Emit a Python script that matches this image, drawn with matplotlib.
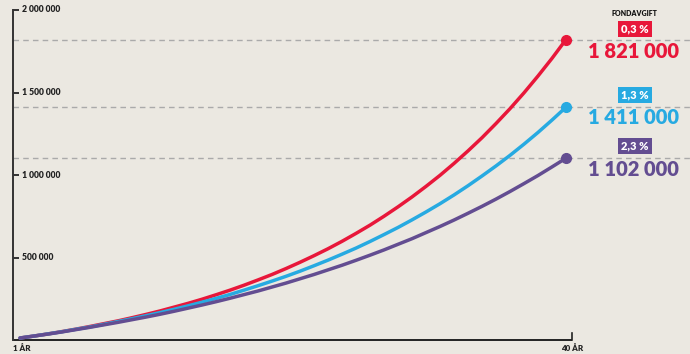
import matplotlib
matplotlib.use("Agg")
import matplotlib.pyplot as plt
import matplotlib.transforms as mtransforms

# ---- data (values in kronor) ----
years = list(range(1, 41))
red_k = [12, 24, 37, 51, 66, 82, 99, 116, 135, 155, 176, 199, 222, 247, 274, 302,
         332, 364, 397, 433, 471, 511, 553, 598, 646, 696, 750, 807, 867, 931, 998,
         1070, 1146, 1226, 1312, 1402, 1498, 1600, 1707, 1821]
blue_k = [12, 24, 37, 50, 65, 79, 95, 112, 129, 147, 166, 186, 207, 229, 252, 276,
          302, 329, 357, 386, 417, 450, 484, 520, 557, 597, 639, 682, 728, 776, 826,
          879, 935, 994, 1055, 1119, 1187, 1258, 1333, 1411]
purple_k = [12, 24, 36, 49, 63, 77, 92, 107, 123, 139, 156, 174, 193, 212, 232, 253,
            275, 297, 321, 345, 371, 397, 425, 453, 483, 514, 546, 580, 614, 651, 688,
            727, 768, 810, 854, 900, 948, 997, 1049, 1102]
fee_labels = ["0,3 %", "1,3 %", "2,3 %"]
end_labels = ["1 821 000", "1 411 000", "1 102 000"]
end_values = [1821000, 1411000, 1102000]
y_ticks = [500000, 1000000, 1500000, 2000000]
y_tick_labels = ["500 000", "1 000 000", "1 500 000", "2 000 000"]
x_labels = ["1 ÅR", "40 ÅR"]

series = [[v * 1000 for v in red_k], [v * 1000 for v in blue_k], [v * 1000 for v in purple_k]]
colors = ["#E8173A", "#27AAE1", "#634D91"]
bg = "#EBE8E1"

plt.rcParams['font.family'] = ['Lato', 'DejaVu Sans']

W, H = 690, 354
fig = plt.figure(figsize=(W / 100, H / 100), dpi=100, facecolor=bg)
ax = fig.add_axes([13 / W, 14 / H, (W - 13) / W, 330 / H])
ax.set_facecolor(bg)
# x: pixel 20 -> year 1, 14 px per year
x0 = 1 - 7 / 14
x1 = 1 + (W - 20) / 14
ax.set_xlim(x0, x1)
ax.set_ylim(0, 2000000)
for s in ["top", "right", "bottom"]:
    ax.spines[s].set_visible(False)
ax.spines["left"].set_color("#333333")
ax.spines["left"].set_linewidth(1.4)
ax.set_xticks([])
ax.set_yticks(y_ticks)
ax.tick_params(axis="y", direction="in", length=4, width=1.4, color="#333333", labelleft=False)

blend = mtransforms.blended_transform_factory(ax.transAxes, ax.transData)
for v, lab in zip(y_ticks, y_tick_labels):
    ax.text(9 / (W - 13), v, lab, transform=blend, fontsize=6.2, fontweight="heavy",
            color="#222222", va="center", ha="left")

# bottom axis line with end tick
x_end = 1 + (572 - 20) / 14
ax.plot([x0, x_end], [0, 0], color="#222222", lw=1.4, clip_on=False, solid_capstyle="butt")
ax.plot([x_end, x_end], [0, 45000], color="#222222", lw=1.2, clip_on=False)
ax.text(x0, -25000, x_labels[0], fontsize=5.8, fontweight="heavy", color="#222222",
        ha="left", va="top")
ax.text(x_end, -25000, x_labels[1], fontsize=5.8, fontweight="heavy", color="#222222",
        ha="center", va="top")

# dashed reference lines
for v in end_values:
    ax.plot([x0, x1], [v, v], color="#AAAAAA", lw=1.0, ls=(0, (4, 3)), zorder=1)

# curves
for ys, c in zip(series, colors):
    ax.plot(years, ys, color=c, lw=2.5, zorder=3, solid_capstyle="round")
    ax.plot(years[-1:], ys[-1:], "o", color=c, ms=7, zorder=4)

# right annotations
fig.text(634 / W, 1 - 13 / H, "FONDAVGIFT", fontsize=5, fontweight="heavy",
         color="#111111", ha="center", va="center")
box_y = [29, 95, 146]
num_y = [51, 118, 170]
for lab, num, c, by, ny in zip(fee_labels, end_labels, colors, box_y, num_y):
    fig.text(635 / W, 1 - by / H, lab, fontsize=8, fontweight="heavy", color="white",
             ha="center", va="center",
             bbox=dict(boxstyle="square,pad=0.25", fc=c, ec="none"))
    fig.text(633 / W, 1 - ny / H, num, fontsize=14.5, fontweight="heavy", color=c,
             ha="center", va="center")

fig.savefig("out.png", dpi=100, facecolor=bg)
